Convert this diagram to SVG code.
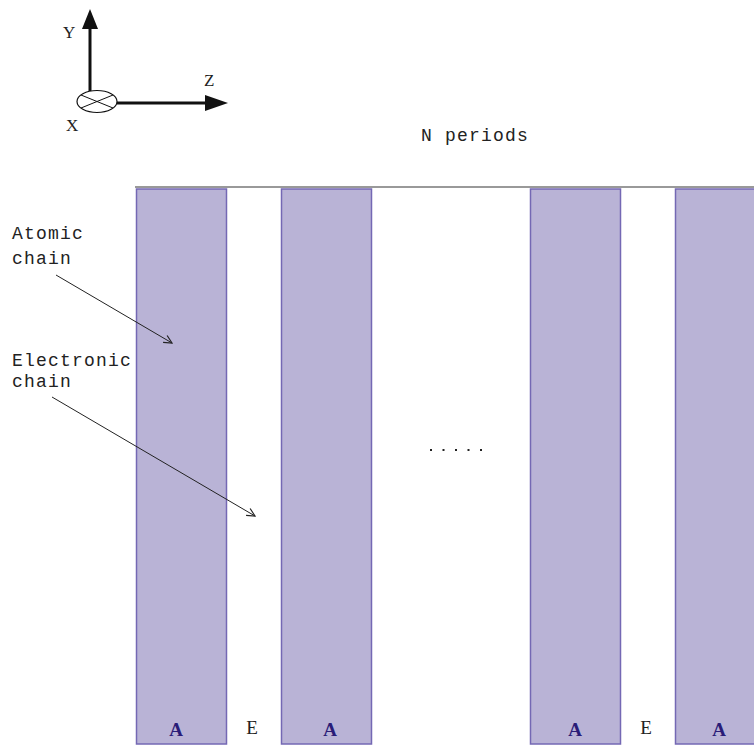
<svg xmlns="http://www.w3.org/2000/svg" width="754" height="745" viewBox="0 0 754 745">
  <style>
    .lbl { font-family: "Liberation Mono", "DejaVu Sans Mono", monospace; font-size: 18px; letter-spacing: 1.2px; fill: #222; }
    .ax { font-family: "Liberation Serif", serif; font-size: 17px; fill: #222; }
    .bar { fill: #b9b3d6; stroke: #7468b4; stroke-width: 1.5; }
    .tagA { font-family: "Liberation Serif", serif; font-size: 19px; font-weight: bold; fill: #2a1c78; text-anchor: middle; }
    .tagE { font-family: "Liberation Serif", serif; font-size: 19px; fill: #222; text-anchor: middle; }
    .axis { stroke: #111; stroke-width: 3; fill: none; }
    .ptr { stroke: #222; stroke-width: 1; fill: none; }
  </style>
  <defs>
    <marker id="open" markerWidth="10" markerHeight="10" refX="9" refY="5" orient="auto" markerUnits="userSpaceOnUse">
      <path d="M1,1 L9,5 L1,9" fill="none" stroke="#222" stroke-width="1.2"/>
    </marker>
  </defs>
  <rect width="754" height="745" fill="#fff"/>

  <!-- coordinate axes -->
  <g id="axes">
    <line class="axis" x1="90" y1="91" x2="90" y2="26"/>
    <polygon points="90,9 82,29 98,29" fill="#111"/>
    <line class="axis" x1="117" y1="103" x2="207" y2="103"/>
    <polygon points="228,103 205,95 205,111" fill="#111"/>
    <ellipse cx="97" cy="101.5" rx="20" ry="11" fill="#fff" stroke="#111" stroke-width="1.2"/>
    <line x1="81" y1="95" x2="113" y2="108" stroke="#111" stroke-width="1"/>
    <line x1="81" y1="108" x2="113" y2="95" stroke="#111" stroke-width="1"/>
    <text class="ax" x="63" y="38">Y</text>
    <text class="ax" x="204" y="86">Z</text>
    <text class="ax" x="66" y="131">X</text>
  </g>

  <text class="lbl" x="421" y="141">N periods</text>
  <line x1="135" y1="187" x2="754" y2="187" stroke="#777" stroke-width="1.5"/>

  <!-- atomic chains -->
  <g id="chain-a1"><rect class="bar" x="136.5" y="189" width="90" height="555"/><text class="tagA" x="176" y="736">A</text></g>
  <g id="chain-e1"><text class="tagE" x="252" y="734">E</text></g>
  <g id="chain-a2"><rect class="bar" x="281.5" y="189" width="90" height="555"/><text class="tagA" x="330" y="736">A</text></g>
  <g id="ellipsis">
    <rect x="430" y="449" width="2" height="2" fill="#222"/>
    <rect x="442.5" y="449" width="2" height="2" fill="#222"/>
    <rect x="455" y="449" width="2" height="2" fill="#222"/>
    <rect x="467.5" y="449" width="2" height="2" fill="#222"/>
    <rect x="480" y="449" width="2" height="2" fill="#222"/>
  </g>
  <g id="chain-a3"><rect class="bar" x="530.5" y="189" width="90" height="555"/><text class="tagA" x="575" y="736">A</text></g>
  <g id="chain-e2"><text class="tagE" x="646" y="734">E</text></g>
  <g id="chain-a4"><rect class="bar" x="675.5" y="189" width="90" height="555"/><text class="tagA" x="719" y="736">A</text></g>

  <!-- callouts -->
  <g id="label-atomic">
    <text class="lbl" x="12" y="239">Atomic</text>
    <text class="lbl" x="12" y="264">chain</text>
  </g>
  <g id="label-electronic">
    <text class="lbl" x="12" y="366">Electronic</text>
    <text class="lbl" x="12" y="387">chain</text>
  </g>
  <g id="connectors">
    <line class="ptr" x1="56" y1="275" x2="172" y2="343" marker-end="url(#open)"/>
    <line class="ptr" x1="52" y1="397" x2="255" y2="516" marker-end="url(#open)"/>
  </g>
</svg>
